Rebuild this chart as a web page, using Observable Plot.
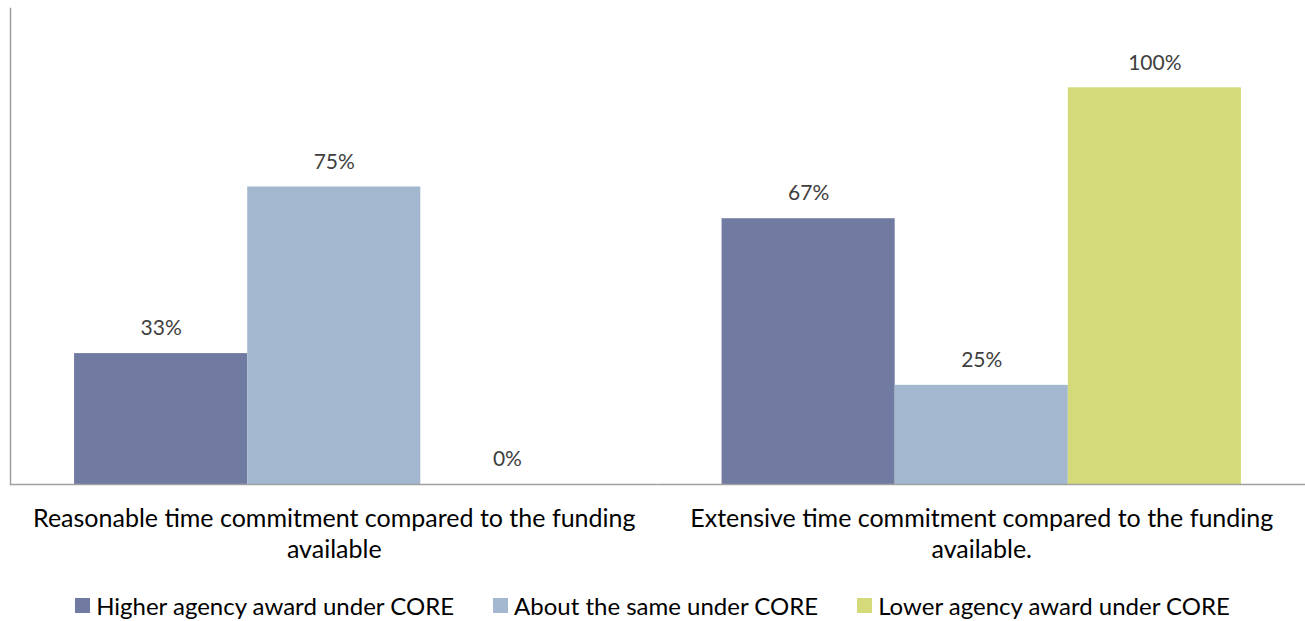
<!DOCTYPE html>
<html>
<head>
<meta charset="utf-8">
<script src="https://cdn.jsdelivr.net/npm/d3@7"></script>
<script src="https://cdn.jsdelivr.net/npm/@observablehq/plot@0.6"></script>
<style>
  html, body { margin: 0; padding: 0; background: #fff; }
  body { width: 1305px; height: 621px; overflow: hidden; font-family: Lato, "Open Sans", sans-serif; }
  #legend { display: flex; justify-content: center; gap: 39px; margin-top: 21px; font-size: 24px; line-height: 29px; color: #000; padding-left: 0px; }
  .item { display: flex; align-items: center; }
  .sw { width: 15px; height: 15px; margin-right: 6px; }
</style>
</head>
<body>
<div id="chart"></div>
<div id="legend"></div>
<script>
const categories = [
  "Reasonable time commitment compared to the funding\navailable",
  "Extensive time commitment compared to the funding\navailable."
];
const series = ["Higher agency award under CORE", "About the same under CORE", "Lower agency award under CORE"];
const colors = ["#717aa0", "#a3b8cf", "#d4da7a"];
const reasonableValues = [0.33, 0.75, 0.00];
const extensiveValues = [0.67, 0.25, 1.00];

const table = [];
[reasonableValues, extensiveValues].forEach((vals, ci) => {
  vals.forEach((v, si) => table.push({category: categories[ci], series: series[si], value: v}));
});

const plot = Plot.plot({
  width: 1305,
  height: 570,
  marginLeft: 10,
  marginRight: 0,
  marginTop: 8,
  marginBottom: 86,
  style: {fontFamily: "Lato, 'Open Sans', sans-serif", background: "#fff"},
  fx: {domain: categories, padding: 0, round: false, label: null},
  x: {domain: series, paddingInner: 0, paddingOuter: 0.37, round: false, axis: null},
  y: {domain: [0, 1.2], axis: null},
  color: {domain: series, range: colors},
  marks: [
    Plot.barY(table, {fx: "category", x: "series", y: "value", fill: "series", inset: 0}),
    Plot.text(table, {fx: "category", x: "series", y: "value", text: d => Math.round(d.value * 100) + "%", dy: -25, fontSize: 21, fill: "#404040"}),
    Plot.ruleY([0], {stroke: "#a0a0a0", strokeWidth: 1.5}),
    Plot.frame({anchor: "left", stroke: "#a0a0a0", strokeWidth: 1.5, facet: "super"}),
    Plot.axisFx({anchor: "bottom", tickSize: 0, tickPadding: 21, fontSize: 25, fill: "#000", lineHeight: 1.22, label: null})
  ]
});
document.getElementById("chart").appendChild(plot);

const legend = document.getElementById("legend");
series.forEach((s, i) => {
  const item = document.createElement("div");
  item.className = "item";
  const sw = document.createElement("span");
  sw.className = "sw";
  sw.style.background = colors[i];
  const t = document.createElement("span");
  t.textContent = s;
  item.appendChild(sw);
  item.appendChild(t);
  legend.appendChild(item);
});
</script>
</body>
</html>
